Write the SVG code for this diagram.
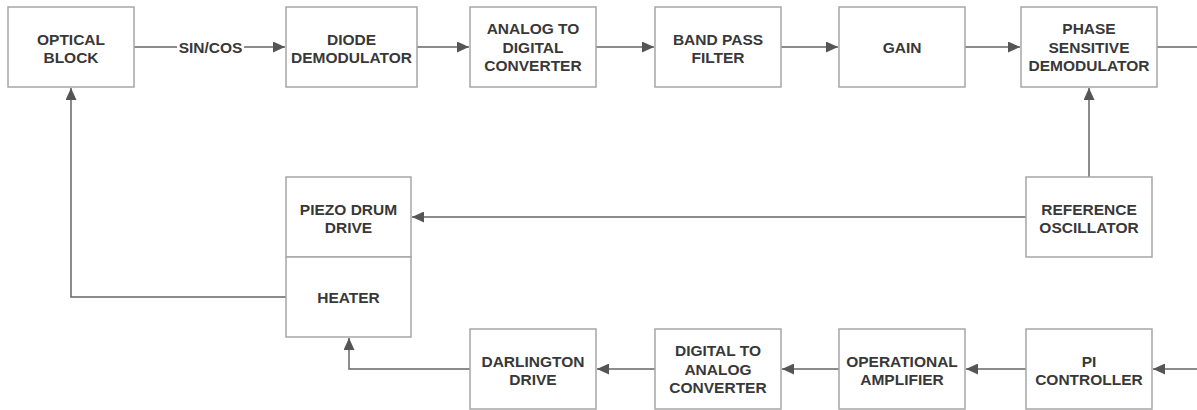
<svg xmlns="http://www.w3.org/2000/svg" width="1197" height="410" viewBox="0 0 1197 410">
<style>
  .box { fill: #ffffff; stroke: #a6a6a6; stroke-width: 1.5; }
  .lbl { font-family: "Liberation Sans", Arial, sans-serif; font-weight: bold; font-size: 15.5px; fill: #383838; text-anchor: middle; }
  .con { fill: none; stroke: #666666; stroke-width: 1.5; }
</style>
<defs>
  <marker id="arr" markerUnits="userSpaceOnUse" markerWidth="12" markerHeight="11" refX="12" refY="5.5" orient="auto">
    <path d="M0,0 L12,5.5 L0,11 Z" fill="#555555"/>
  </marker>
</defs>
<rect width="1197" height="410" fill="#ffffff"/>
<g id="connectors">
  <path class="con" d="M134,47 H285" marker-end="url(#arr)"/>
  <path class="con" d="M417,47 H469" marker-end="url(#arr)"/>
  <path class="con" d="M596,47 H654" marker-end="url(#arr)"/>
  <path class="con" d="M781,47 H838" marker-end="url(#arr)"/>
  <path class="con" d="M965,47 H1020" marker-end="url(#arr)"/>
  <path class="con" d="M1157,47 H1197"/>
  <path class="con" d="M1089,177 V88" marker-end="url(#arr)"/>
  <path class="con" d="M1026,217 H412" marker-end="url(#arr)"/>
  <path class="con" d="M286,297 H71 V88" marker-end="url(#arr)"/>
  <path class="con" d="M470,369 H349 V338" marker-end="url(#arr)"/>
  <path class="con" d="M655,369 H597" marker-end="url(#arr)"/>
  <path class="con" d="M839,369 H782" marker-end="url(#arr)"/>
  <path class="con" d="M1026,369 H966" marker-end="url(#arr)"/>
  <path class="con" d="M1197,369 H1153" marker-end="url(#arr)"/>
  <rect x="177" y="37" width="67" height="20" fill="#ffffff"/>
  <text class="lbl" x="210.5" y="52.5">SIN/COS</text>
</g>
<g id="optical-block">
  <rect class="box" x="8" y="7" width="126" height="80"/>
  <text class="lbl" x="71" y="44.5">OPTICAL</text>
  <text class="lbl" x="71" y="62.5">BLOCK</text>
</g>
<g id="diode-demodulator">
  <rect class="box" x="286" y="7" width="131" height="80"/>
  <text class="lbl" x="351.5" y="44.5">DIODE</text>
  <text class="lbl" x="351.5" y="62.5">DEMODULATOR</text>
</g>
<g id="adc">
  <rect class="box" x="470" y="7" width="126" height="80"/>
  <text class="lbl" x="533" y="34">ANALOG TO</text>
  <text class="lbl" x="533" y="52.5">DIGITAL</text>
  <text class="lbl" x="533" y="71">CONVERTER</text>
</g>
<g id="band-pass-filter">
  <rect class="box" x="655" y="7" width="126" height="80"/>
  <text class="lbl" x="718" y="44.5">BAND PASS</text>
  <text class="lbl" x="718" y="62.5">FILTER</text>
</g>
<g id="gain">
  <rect class="box" x="839" y="7" width="126" height="80"/>
  <text class="lbl" x="902" y="53">GAIN</text>
</g>
<g id="phase-sensitive-demodulator">
  <rect class="box" x="1021" y="7" width="136" height="80"/>
  <text class="lbl" x="1089" y="34">PHASE</text>
  <text class="lbl" x="1089" y="52.5">SENSITIVE</text>
  <text class="lbl" x="1089" y="71">DEMODULATOR</text>
</g>
<g id="reference-oscillator">
  <rect class="box" x="1026" y="177" width="126" height="80"/>
  <text class="lbl" x="1089" y="214.5">REFERENCE</text>
  <text class="lbl" x="1089" y="232.5">OSCILLATOR</text>
</g>
<g id="piezo-drum-drive">
  <rect class="box" x="286" y="177" width="125" height="80"/>
  <text class="lbl" x="348.5" y="214.5">PIEZO DRUM</text>
  <text class="lbl" x="348.5" y="232.5">DRIVE</text>
</g>
<g id="heater">
  <rect class="box" x="286" y="257" width="125" height="80"/>
  <text class="lbl" x="348.5" y="302.5">HEATER</text>
</g>
<g id="darlington-drive">
  <rect class="box" x="470" y="329" width="126" height="80"/>
  <text class="lbl" x="533" y="366.5">DARLINGTON</text>
  <text class="lbl" x="533" y="384.5">DRIVE</text>
</g>
<g id="dac">
  <rect class="box" x="655" y="329" width="126" height="80"/>
  <text class="lbl" x="718" y="356">DIGITAL TO</text>
  <text class="lbl" x="718" y="374.5">ANALOG</text>
  <text class="lbl" x="718" y="393">CONVERTER</text>
</g>
<g id="operational-amplifier">
  <rect class="box" x="839" y="329" width="126" height="80"/>
  <text class="lbl" x="902" y="366.5">OPERATIONAL</text>
  <text class="lbl" x="902" y="384.5">AMPLIFIER</text>
</g>
<g id="pi-controller">
  <rect class="box" x="1026" y="329" width="126" height="80"/>
  <text class="lbl" x="1089" y="366.5">PI</text>
  <text class="lbl" x="1089" y="384.5">CONTROLLER</text>
</g>
</svg>
